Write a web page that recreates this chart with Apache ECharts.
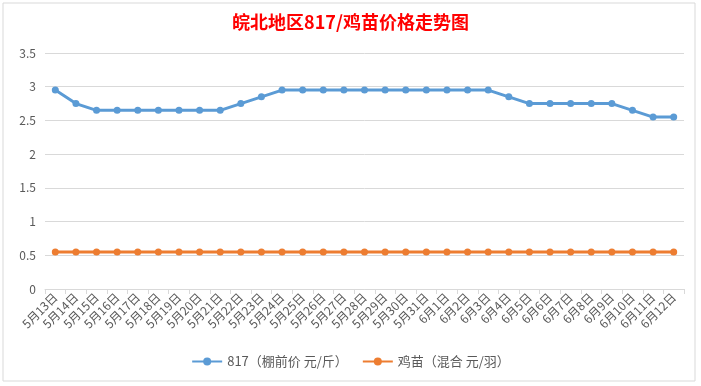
<!DOCTYPE html>
<html><head><meta charset="utf-8">
<script src="https://cdn.jsdelivr.net/npm/echarts@6/dist/echarts.min.js"></script>
<style>html,body{margin:0;padding:0;background:#fff}#c{width:701px;height:386px}</style>
</head><body><div id="c"></div>
<script>
const categories = ['5月13日','5月14日','5月15日','5月16日','5月17日','5月18日','5月19日','5月20日','5月21日','5月22日','5月23日','5月24日','5月25日','5月26日','5月27日','5月28日','5月29日','5月30日','5月31日','6月1日','6月2日','6月3日','6月4日','6月5日','6月6日','6月7日','6月8日','6月9日','6月10日','6月11日','6月12日'];
const price817 = [2.95,2.75,2.65,2.65,2.65,2.65,2.65,2.65,2.65,2.75,2.85,2.95,2.95,2.95,2.95,2.95,2.95,2.95,2.95,2.95,2.95,2.95,2.85,2.75,2.75,2.75,2.75,2.75,2.65,2.55,2.55];
const chickPrice = [0.55,0.55,0.55,0.55,0.55,0.55,0.55,0.55,0.55,0.55,0.55,0.55,0.55,0.55,0.55,0.55,0.55,0.55,0.55,0.55,0.55,0.55,0.55,0.55,0.55,0.55,0.55,0.55,0.55,0.55,0.55];
const seriesNames = ['817（棚前价 元/斤）','鸡苗（混合 元/羽）'];
const titleText = '皖北地区817/鸡苗价格走势图';

const chart = echarts.init(document.getElementById('c'));
const font = '"Microsoft YaHei","Noto Sans CJK SC",sans-serif';
chart.setOption({
  animation: false,
  graphic: [{type:'rect', shape:{x:3,y:3,width:692,height:378}, style:{fill:'none', stroke:'#d9d9d9', lineWidth:1}, silent:true}],
  title: {text: titleText, left:'center', top:8, textStyle:{color:'#ff0000', fontSize:18, fontWeight:'bold', fontFamily:font}},
  legend: {bottom:13, left:'center', itemWidth:30, itemHeight:10, itemGap:14, textStyle:{color:'#595959', fontSize:13, fontFamily:font}, data: seriesNames},
  grid: {left:45, right:17, top:53, bottom:97},
  xAxis: {type:'category', data: categories, boundaryGap:true,
    axisLine:{lineStyle:{color:'#d9d9d9'}}, axisTick:{show:true, lineStyle:{color:'#d9d9d9'}},
    axisLabel:{rotate:45, interval:0, color:'#595959', fontSize:12, fontFamily:font, margin:6}},
  yAxis: {type:'value', min:0, max:3.5, interval:0.5,
    axisLine:{show:false}, axisTick:{show:false},
    splitLine:{lineStyle:{color:'#d9d9d9'}},
    axisLabel:{color:'#595959', fontSize:12, fontFamily:font, margin:9}},
  series: [
    {name: seriesNames[0], type:'line', data: price817, symbol:'circle', symbolSize:7, lineStyle:{width:3, color:'#5b9bd5'}, itemStyle:{color:'#5b9bd5'}},
    {name: seriesNames[1], type:'line', data: chickPrice, symbol:'circle', symbolSize:7, lineStyle:{width:3, color:'#ed7d31'}, itemStyle:{color:'#ed7d31'}}
  ]
});
</script></body></html>
